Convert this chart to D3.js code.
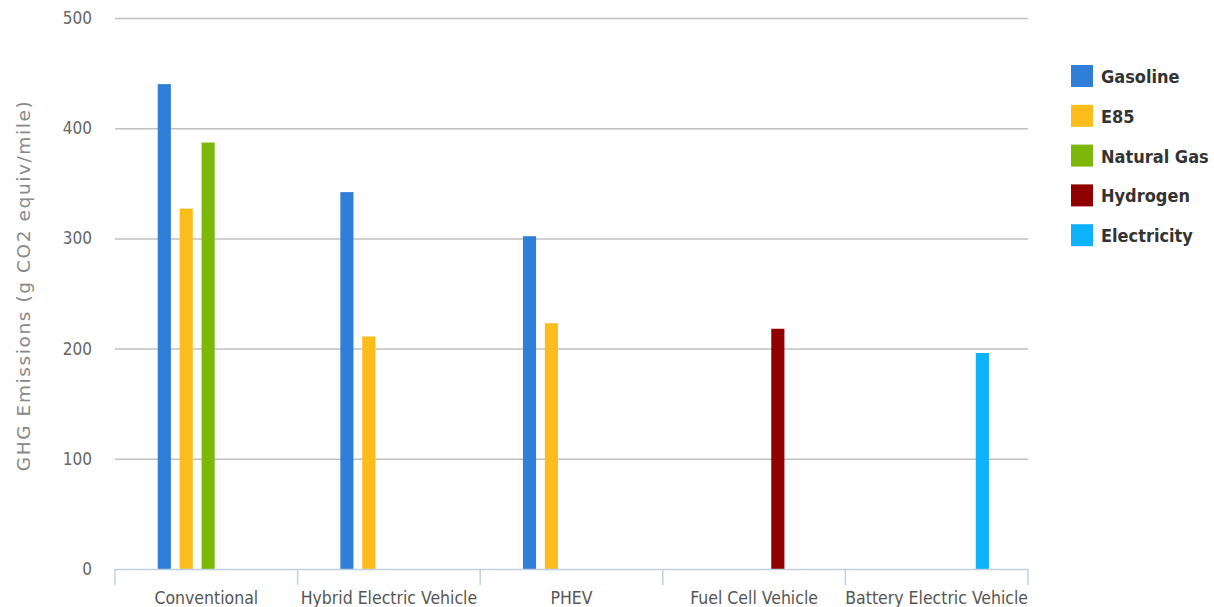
<!DOCTYPE html>
<html>
<head>
<meta charset="utf-8">
<script src="https://cdn.jsdelivr.net/npm/d3@7"></script>
<style>
  body { margin: 0; background: #fff; }
  svg { display: block; }
</style>
</head>
<body>
<div id="chart"></div>
<script>
// vehicle types on the x axis
const categories = ["Conventional", "Hybrid Electric Vehicle", "PHEV", "Fuel Cell Vehicle", "Battery Electric Vehicle"];
// fuel series, in legend order
const seriesNames = ["Gasoline", "E85", "Natural Gas", "Hydrogen", "Electricity"];
const seriesColors = ["#2f7ed8", "#fbbc1c", "#7cb70a", "#910000", "#0eb2fc"];
// g CO2 equiv/mile, null = no bar
const gasoline = [440, 342, 302, null, null];
const e85 = [327, 211, 223, null, null];
const naturalGas = [387, null, null, null, null];
const hydrogen = [null, null, null, 218, null];
const electricity = [null, null, null, null, 196];
const yTicks = [0, 100, 200, 300, 400, 500];

const seriesValues = [gasoline, e85, naturalGas, hydrogen, electricity];

const W = 1214, H = 607;
const margin = { top: 18, right: 186, bottom: 38, left: 115 };
const width = 1028 - margin.left;
const height = 569 - margin.top;

const svg = d3.select("#chart").append("svg")
    .attr("width", W)
    .attr("height", H);

const g = svg.append("g")
    .attr("transform", `translate(${margin.left},${margin.top})`);

const x0 = d3.scaleBand()
    .domain(categories)
    .range([0, width])
    .padding(0);

const bw = x0.bandwidth();
const x1 = d3.scaleBand()
    .domain(seriesNames)
    .range([0.21 * bw, 0.81 * bw])
    .paddingInner(0.4)
    .paddingOuter(0.2);

const y = d3.scaleLinear()
    .domain([0, 500])
    .range([height, 0]);

const font = "'DejaVu Sans Condensed', sans-serif";

// grid lines
g.append("g")
    .selectAll("line")
    .data(yTicks.filter(d => d > 0))
    .enter()
    .append("line")
    .attr("x1", 0)
    .attr("x2", width)
    .attr("y1", d => y(d) + 0.5)
    .attr("y2", d => y(d) + 0.5)
    .attr("stroke", "#c0c0c0")
    .attr("stroke-width", 1.5);

// y labels
g.append("g")
    .selectAll("text")
    .data(yTicks)
    .enter()
    .append("text")
    .attr("x", -23)
    .attr("y", d => y(d) + 6)
    .attr("text-anchor", "end")
    .style("font-family", font)
    .style("font-size", "17px")
    .attr("fill", "#666")
    .text(d => d);

// y axis title
g.append("text")
    .attr("transform", `translate(${-85},${height / 2 - 8}) rotate(-90)`)
    .attr("text-anchor", "middle")
    .style("font-family", "'DejaVu Sans', sans-serif")
    .style("font-size", "18.5px")
    .style("letter-spacing", "1.6px")
    .attr("fill", "#888")
    .text("GHG Emissions (g CO2 equiv/mile)");

// bars
const rows = [];
categories.forEach((c, i) => {
  seriesNames.forEach((s, j) => {
    if (seriesValues[j][i] != null) rows.push({ cat: c, series: s, value: seriesValues[j][i], color: seriesColors[j] });
  });
});

g.append("g")
    .selectAll("rect")
    .data(rows)
    .enter()
    .append("rect")
    .attr("x", d => x0(d.cat) + x1(d.series))
    .attr("y", d => y(d.value))
    .attr("width", x1.bandwidth())
    .attr("height", d => height - y(d.value))
    .attr("fill", d => d.color);

// x axis
const xAxis = g.append("g")
    .attr("transform", `translate(0,${height})`);
xAxis.append("line")
    .attr("x1", 0).attr("x2", width)
    .attr("y1", 0.5).attr("y2", 0.5)
    .attr("stroke", "#c0d0e0")
    .attr("stroke-width", 1.5);
xAxis.selectAll(".tick")
    .data(categories.map(c => x0(c)).concat([width]))
    .enter()
    .append("line")
    .attr("x1", d => d).attr("x2", d => d)
    .attr("y1", 0).attr("y2", 16)
    .attr("stroke", "#c0d0e0")
    .attr("stroke-width", 1.5);
xAxis.selectAll(".lbl")
    .data(categories)
    .enter()
    .append("text")
    .attr("x", d => x0(d) + bw / 2)
    .attr("y", 35)
    .attr("text-anchor", "middle")
    .style("font-family", font)
    .style("font-size", "17.5px")
    .attr("fill", "#555")
    .text(d => d);

// legend
const legend = svg.append("g")
    .attr("transform", "translate(1071,65)");
const item = legend.selectAll("g")
    .data(seriesNames)
    .enter()
    .append("g")
    .attr("transform", (d, i) => `translate(0,${i * 39.8})`);
item.append("rect")
    .attr("width", 22)
    .attr("height", 22)
    .attr("fill", (d, i) => seriesColors[i]);
item.append("text")
    .attr("x", 30)
    .attr("y", 18)
    .style("font-family", font)
    .style("font-size", "18px")
    .style("font-weight", "bold")
    .attr("fill", "#333")
    .text(d => d);
</script>
</body>
</html>
